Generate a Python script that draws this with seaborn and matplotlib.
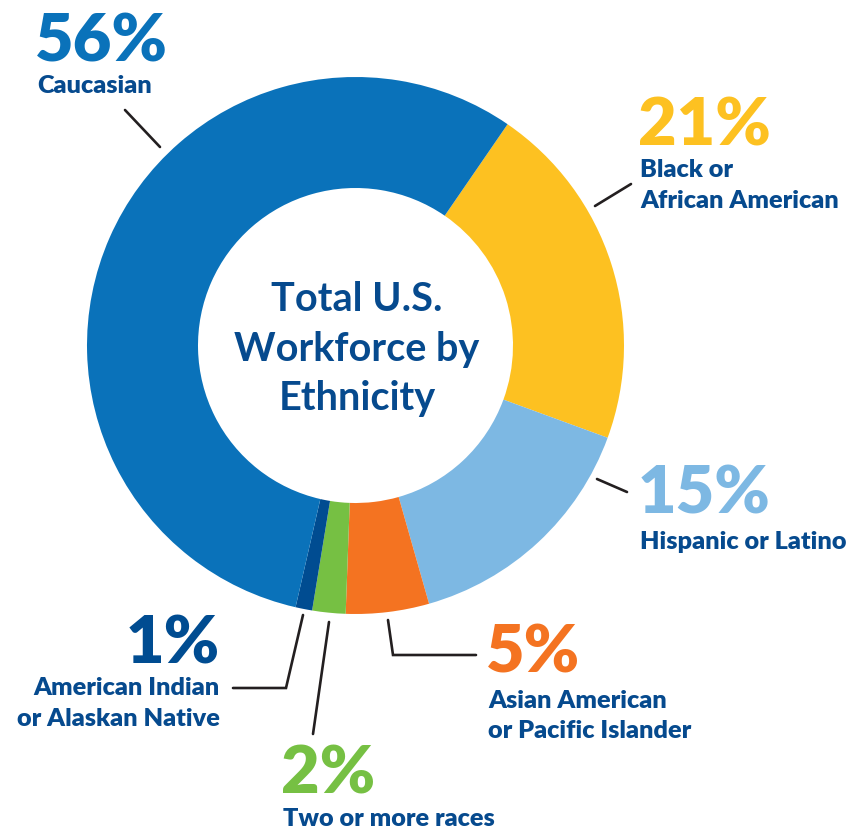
import seaborn as sns
import matplotlib.pyplot as plt

sns.set_theme(style='white')
plt.rcParams['font.family'] = ['Lato', 'DejaVu Sans']

# data (clockwise from the top-right)
groups = ['Black or\nAfrican American', 'Hispanic or Latino', 'Asian American\nor Pacific Islander',
          'Two or more races', 'American Indian\nor Alaskan Native', 'Caucasian']
shares = [21, 15, 5, 2, 1, 56]
pct_labels = ['21%', '15%', '5%', '2%', '1%', '56%']
colors = ['#FDC121', '#7DB8E3', '#F47321', '#76C043', '#004C91', '#0A72BA']
title_lines = ['Total U.S.', 'Workforce by', 'Ethnicity']

W, H = 867, 830
navy = '#064A8E'
line_c = '#231F20'


def Y(y):
    return H - y


fig = plt.figure(figsize=(W / 100, H / 100), dpi=100)
ax = fig.add_axes([0, 0, 1, 1])

ax.pie(shares, colors=colors, startangle=55.5, counterclock=False,
       center=(355.5, Y(345.5)), radius=268.5,
       wedgeprops=dict(width=111, linewidth=0))
ax.set_xlim(0, W)
ax.set_ylim(0, H)
ax.set_aspect('auto')
ax.axis('off')

# centre title
for line, yb in zip(title_lines, [311, 361, 410]):
    ax.text(357, Y(yb), line, ha='center', va='baseline', fontsize=28.5,
            fontweight='bold', color=navy)

# label blocks: (pct x, pct baseline, text baselines, align)
layout = {
    'Caucasian': (35, 62, [93], 'left'),
    'Black or\nAfrican American': (638, 145, [177, 208], 'left'),
    'Hispanic or Latino': (638, 514, [549], 'left'),
    'Asian American\nor Pacific Islander': (486, 672, [708, 738], 'left'),
    'Two or more races': (281, 793, [826], 'left'),
    'American Indian\nor Alaskan Native': (220, 663, [695, 726], 'right'),
}

for g, p, c in zip(groups, pct_labels, colors):
    x, pb, tbs, ha = layout[g]
    ax.text(x, Y(pb), p, ha=ha, va='baseline', fontsize=48,
            fontweight='heavy', color=c)
    for part, tb in zip(g.split('\n'), tbs):
        ax.text(x + (2 if ha == 'left' else 0), Y(tb), part, ha=ha, va='baseline',
                fontsize=18.2, fontweight='heavy', color=navy)

# leader lines
leaders = [
    [(125, 110), (160, 147)],
    [(595, 206), (631, 184)],
    [(597, 479), (627, 492)],
    [(388, 620), (393, 655), (476, 655)],
    [(329, 622), (313, 734)],
    [(303, 615), (286, 688), (233, 688)],
]
for pts in leaders:
    ax.plot([p[0] for p in pts], [Y(p[1]) for p in pts], color=line_c,
            lw=1.9, solid_joinstyle='miter')

fig.savefig('out.png', dpi=100)
